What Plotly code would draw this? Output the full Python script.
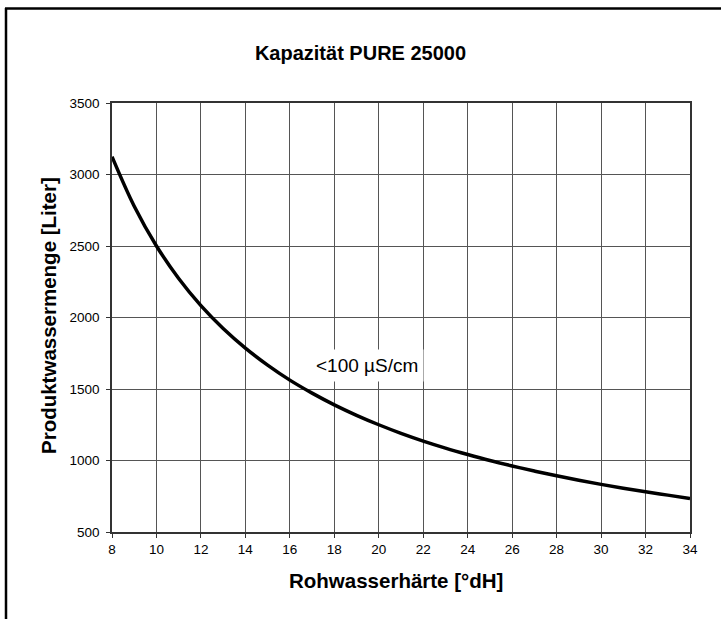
import plotly.graph_objects as go

# Data
haerte = [8, 9, 10, 11, 12, 13, 14, 15, 16, 17, 18, 19, 20, 21, 22, 23, 24, 25, 26, 27, 28, 29, 30, 31, 32, 33, 34]
menge = [3125, 2778, 2500, 2273, 2083, 1923, 1786, 1667, 1562, 1471, 1389, 1316, 1250, 1190, 1136, 1087,
         1042, 1000, 962, 926, 893, 862, 833, 806, 781, 758, 735]
x_ticks = [8, 10, 12, 14, 16, 18, 20, 22, 24, 26, 28, 30, 32, 34]
y_ticks = [500, 1000, 1500, 2000, 2500, 3000, 3500]

title_text = "Kapazität PURE 25000"
x_title = "Rohwasserhärte [°dH]"
y_title = "Produktwassermenge [Liter]"
label_text = "<100 µS/cm"

FONT = "Liberation Sans, Arial, sans-serif"

fig = go.Figure()
fig.add_trace(go.Scatter(x=haerte, y=menge, mode="lines",
                         line=dict(color="black", width=3.5, shape="spline"),
                         showlegend=False, hoverinfo="skip"))

W, H = 721, 619
L, R, T, B = 112, 31, 103, 87
pw, ph = W - L - R, H - T - B

def px(x):
    return (x - L) / pw

def py(y):
    return (H - B - y) / ph

fig.update_layout(
    width=W, height=H,
    margin=dict(l=L, r=R, t=T, b=B),
    paper_bgcolor="white", plot_bgcolor="white",
    font=dict(family=FONT, color="black", size=13.5),
    title=dict(text="<b>" + title_text + "</b>", x=0.5, xref="container", xanchor="center",
               y=1 - 53 / H, yref="container", yanchor="middle",
               font=dict(size=20, family=FONT, color="black")),
    xaxis=dict(range=[8, 34], tickvals=x_ticks, showgrid=True, gridcolor="#555555", gridwidth=1,
               showline=True, linecolor="#333333", linewidth=1.5, mirror=True,
               ticks="outside", ticklen=4, tickcolor="#333333", zeroline=False,
               tickfont=dict(size=13.5, family=FONT)),
    yaxis=dict(range=[500, 3500], tickvals=y_ticks, showgrid=True, gridcolor="#555555", gridwidth=1,
               showline=True, linecolor="#333333", linewidth=1.5, mirror=True,
               ticks="outside", ticklen=4, tickcolor="#333333", zeroline=False,
               ticklabelstandoff=4,
               tickfont=dict(size=13.5, family=FONT)),
    annotations=[
        dict(x=19.45, y=1665, xref="x", yref="y", text=label_text, showarrow=False,
             font=dict(size=19, family=FONT, color="black"), bgcolor="white", borderpad=5,
             xanchor="center", yanchor="middle"),
        dict(x=px(396), y=py(580), xref="paper", yref="paper", text="<b>" + x_title + "</b>",
             showarrow=False, font=dict(size=20.5, family=FONT, color="black"),
             xanchor="center", yanchor="middle"),
        dict(x=px(48), y=py(316), xref="paper", yref="paper", text="<b>" + y_title + "</b>",
             showarrow=False, textangle=-90, font=dict(size=20.5, family=FONT, color="black"),
             xanchor="center", yanchor="middle"),
    ],
    shapes=[
        dict(type="line", xref="paper", yref="paper", x0=px(6), x1=px(6), y0=py(8), y1=py(H),
             line=dict(color="black", width=2.5)),
        dict(type="line", xref="paper", yref="paper", x0=px(5), x1=px(W), y0=py(8.5), y1=py(8.5),
             line=dict(color="black", width=2.5)),
    ],
)

fig.write_html("out.html", config={"displayModeBar": False},
               post_script="document.body.style.margin='0';document.body.style.overflow='hidden';")
